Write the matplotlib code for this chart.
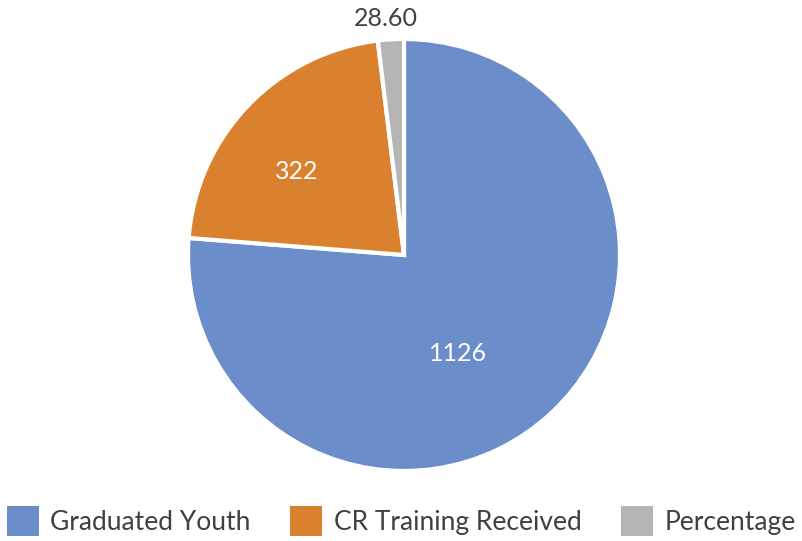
import matplotlib
matplotlib.use("Agg")
import matplotlib.pyplot as plt
from matplotlib.patches import Patch
import numpy as np

categories = ["Graduated Youth", "CR Training Received", "Percentage"]
values = [1126, 322, 28.60]
labels = ["1126", "322", "28.60"]
colors = ["#6B8ECB", "#DA8130", "#B5B5B5"]

plt.rcParams['font.family'] = ['Lato', 'DejaVu Sans']

W, H = 803, 541
fig = plt.figure(figsize=(W / 100, H / 100), dpi=100)
ax = fig.add_axes([0, 0, 1, 1])

cx, cy, r = 404, H - 255, 216
wedges, texts = ax.pie(values, colors=colors, startangle=90, counterclock=False,
                       center=(cx, cy), radius=r, explode=[0.0, 0.025, 0.03],
                       wedgeprops=dict(edgecolor="white", linewidth=3))
ax.set_xlim(0, W)
ax.set_ylim(0, H)
ax.set_aspect('equal')
ax.axis('off')

# value labels: radial fraction and angular shift from each wedge's middle
tot = sum(values)
lab_frac = [0.52, 0.63, 1.10]
lab_shift = [-14, 6, 1]
txt_colors = ["white", "white", "#404040"]
ang = 90
for i, v in enumerate(values):
    span = 360 * v / tot
    mid = np.deg2rad(ang - span / 2 + lab_shift[i])
    ang -= span
    x = cx + lab_frac[i] * r * np.cos(mid)
    y = cy + lab_frac[i] * r * np.sin(mid)
    ax.text(x, y, labels[i], ha="center", va="center", fontsize=18,
            color=txt_colors[i])

handles = [Patch(facecolor=c, edgecolor="none") for c in colors]
fig.legend(handles, categories, loc="lower center", bbox_to_anchor=(0.5, -0.035), ncol=3,
           frameon=False, prop=dict(size=19), handlelength=1.2,
           handleheight=1.4, handletextpad=0.45, columnspacing=1.5, labelcolor="#404040")

fig.savefig("out.png", dpi=100)
